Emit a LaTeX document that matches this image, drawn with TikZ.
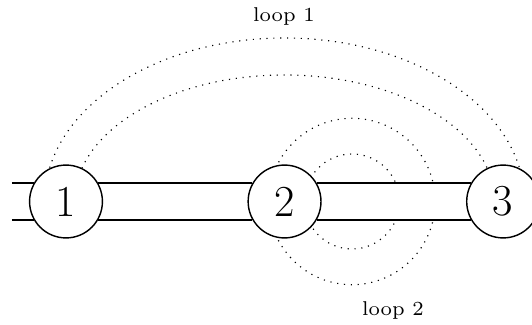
\documentclass[tikz,border=0pt]{standalone}
\usetikzlibrary{positioning,backgrounds}
\begin{document}
\begin{tikzpicture}[x=0.35pt, y=0.35pt,
    nd/.style={circle, draw=black, fill=white, line width=0.5pt,
               minimum size=25.5pt, inner sep=0pt, font=\fontsize{15.5}{18}\selectfont},
    bd/.style={line width=0.5pt},
    dl/.style={dotted, line width=0.4pt},
    lb/.style={font=\scriptsize, anchor=base, inner sep=0pt}
]
    \useasboundingbox (0,0) rectangle (532,324);
    \node[nd] (n1) at (66,122.5) {1};
    \node[nd, right=50.5pt of n1] (n2) {2};
    \node[nd, right=50.5pt of n2] (n3) {3};
    \coordinate (lt) at (n1.150 -| 12,0);
    \coordinate (lw) at (n1.210 -| 12,0);
    \coordinate (c2) at (352,122.5);
    % strip between the sites
    \draw[bd] (lt) -- (n1.150);
    \draw[bd] (lw) -- (n1.210);
    \draw[bd] (n1.30) -- (n2.150);
    \draw[bd] (n1.-30) -- (n2.210);
    \draw[bd] (n2.30) -- (n3.150);
    \draw[bd] (n2.-30) -- (n3.210);
    % loops behind the strip
    \begin{scope}[on background layer]
        \draw[dl] (n2.center) ++(-240,0) arc[start angle=180, end angle=0, x radius=240, y radius=163.5];
        \draw[dl] (n2.center) ++(-210,0) arc[start angle=180, end angle=0, x radius=210, y radius=126.5];
        \draw[dl] (c2) circle[radius=47.5];
        \draw[dl] (c2) circle[radius=83.2];
        \fill[white] (n1.30) rectangle (n3.210);
    \end{scope}
    \node[lb] (l1) at (284,303) {loop 1};
    \node[lb] (l2) at (393,8) {loop 2};
\end{tikzpicture}
\end{document}
